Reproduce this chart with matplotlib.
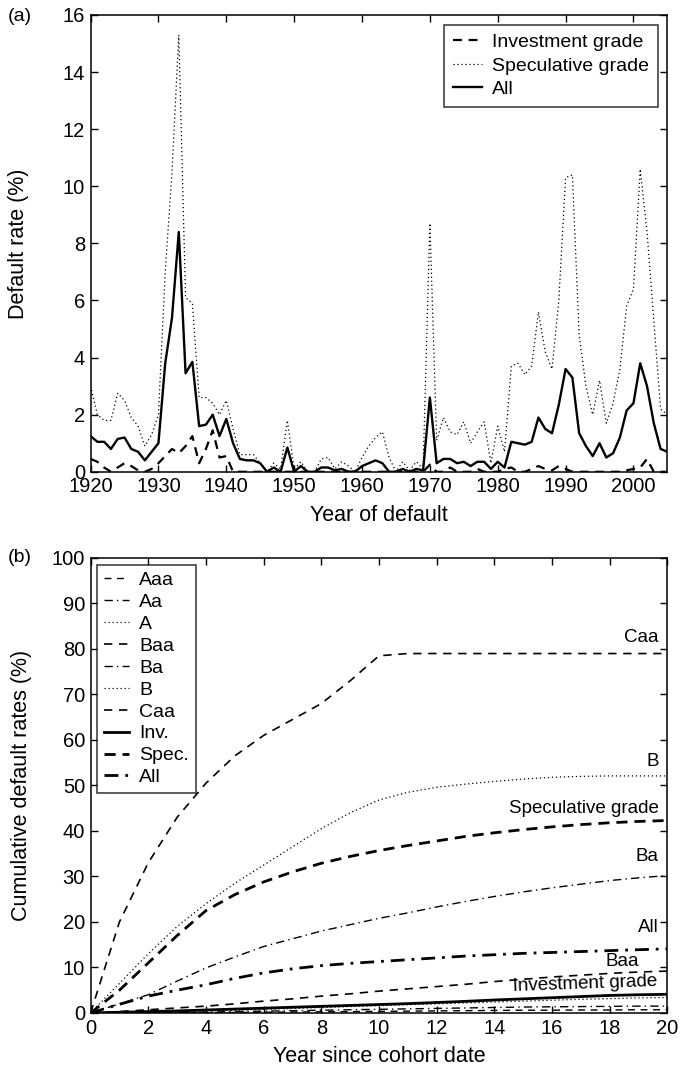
import matplotlib

matplotlib.use("Agg")
import matplotlib.pyplot as plt
import numpy as np

plt.rcParams["font.family"] = ["Liberation Sans", "DejaVu Sans"]

# (a) annual default rates, 1920-2005
years = list(range(1920, 2006))
inv_grade = [0.45, 0.35, 0.15, 0.0, 0.15, 0.3, 0.2, 0.05, 0.0, 0.1,
             0.3, 0.55, 0.8, 0.65, 0.9, 1.25, 0.3, 0.8, 1.45, 0.5,
             0.55, 0.0, 0.0, 0.0, 0.0, 0.0, 0.0, 0.0, 0.0, 0.0,
             0.0, 0.0, 0.0, 0.0, 0.0, 0.0, 0.0, 0.0, 0.0, 0.0,
             0.0, 0.0, 0.0, 0.0, 0.0, 0.0, 0.0, 0.0, 0.0, 0.0,
             0.25, 0.0, 0.0, 0.15, 0.0, 0.0, 0.0, 0.1, 0.0, 0.0,
             0.0, 0.1, 0.15, 0.0, 0.0, 0.1, 0.2, 0.1, 0.05, 0.2,
             0.1, 0.0, 0.0, 0.0, 0.0, 0.0, 0.0, 0.0, 0.0, 0.05,
             0.1, 0.15, 0.45, 0.0, 0.0, 0.0]
spec_grade = [3.0, 2.0, 1.8, 1.8, 2.75, 2.5, 1.9, 1.6, 0.9, 1.3,
              2.0, 7.0, 10.5, 15.3, 6.1, 5.9, 2.6, 2.6, 2.4, 2.0,
              2.5, 1.5, 0.6, 0.6, 0.6, 0.3, 0.0, 0.3, 0.1, 1.8,
              0.1, 0.35, 0.0, 0.0, 0.45, 0.5, 0.1, 0.35, 0.2, 0.0,
              0.5, 0.9, 1.2, 1.4, 0.5, 0.0, 0.35, 0.05, 0.35, 0.1,
              8.7, 1.1, 1.9, 1.4, 1.3, 1.75, 1.0, 1.4, 1.75, 0.3,
              1.6, 0.7, 3.7, 3.8, 3.4, 3.7, 5.6, 4.2, 3.6, 6.0,
              10.3, 10.4, 4.8, 3.0, 2.0, 3.2, 1.7, 2.4, 3.6, 5.8,
              6.4, 10.6, 8.4, 5.3, 2.2, 2.0]
all_grade = [1.25, 1.05, 1.05, 0.8, 1.15, 1.2, 0.8, 0.7, 0.4, 0.7,
             1.0, 3.8, 5.4, 8.4, 3.45, 3.85, 1.6, 1.65, 2.0, 1.25,
             1.85, 1.0, 0.45, 0.4, 0.4, 0.3, 0.0, 0.15, 0.0, 0.85,
             0.0, 0.2, 0.0, 0.0, 0.15, 0.15, 0.05, 0.1, 0.0, 0.0,
             0.2, 0.3, 0.4, 0.3, 0.0, 0.0, 0.1, 0.0, 0.1, 0.05,
             2.6, 0.3, 0.45, 0.45, 0.3, 0.35, 0.2, 0.35, 0.35, 0.1,
             0.35, 0.15, 1.05, 1.0, 0.95, 1.05, 1.9, 1.5, 1.35, 2.35,
             3.6, 3.3, 1.35, 0.9, 0.55, 1.0, 0.5, 0.65, 1.2, 2.15,
             2.4, 3.8, 3.0, 1.7, 0.8, 0.7]

# (b) cumulative default rates by horizon
horizon = list(range(0, 21))
cum_aaa = [0, 0, 0, 0, 0.05, 0.1, 0.15, 0.2, 0.25, 0.3, 0.35, 0.4, 0.45, 0.5, 0.55, 0.6, 0.6, 0.65, 0.65, 0.7, 0.7]
cum_aa = [0, 0.0, 0.05, 0.1, 0.2, 0.3, 0.4, 0.5, 0.6, 0.7, 0.8, 0.9, 1.0, 1.1, 1.2, 1.3, 1.35, 1.4, 1.45, 1.5, 1.5]
cum_a = [0, 0.05, 0.15, 0.3, 0.45, 0.6, 0.8, 1.0, 1.2, 1.4, 1.6, 1.8, 2.0, 2.2, 2.4, 2.6, 2.8, 3.0, 3.15, 3.3, 3.4]
cum_baa = [0, 0.3, 0.7, 1.1, 1.5, 2.0, 2.6, 3.1, 3.7, 4.2, 4.8, 5.3, 5.8, 6.3, 6.9, 7.4, 7.9, 8.3, 8.7, 9.0, 9.2]
cum_ba = [0, 2, 4, 7, 9.9, 12.3, 14.6, 16.3, 18, 19.4, 20.8, 22, 23.3, 24.5, 25.6, 26.6, 27.5, 28.3, 29.1, 29.7, 30.2]
cum_b = [0, 6.5, 13, 19, 24, 28.5, 32.5, 36.5, 40.5, 44, 46.8, 48.5, 49.6, 50.3, 50.9, 51.4, 51.8, 52.0, 52.1, 52.1, 52.1]
cum_caa = [0, 20, 33, 43, 50.5, 56.5, 61, 64.5, 68, 73, 78.5, 79, 79, 79, 79, 79, 79, 79, 79, 79, 79]
cum_inv = [0, 0.15, 0.3, 0.45, 0.65, 0.85, 1.05, 1.25, 1.45, 1.65, 1.85, 2.05, 2.3, 2.55, 2.85, 3.1, 3.35, 3.6, 3.85, 4.0, 4.1]
cum_spec = [0, 5, 11, 17, 22.5, 26, 28.8, 31, 32.9, 34.4, 35.7, 36.8, 37.8, 38.8, 39.6, 40.3, 40.9, 41.4, 41.8, 42.1, 42.3]
cum_all = [0, 1.9, 3.7, 5.0, 6.2, 7.6, 8.8, 9.7, 10.4, 10.9, 11.3, 11.7, 12.1, 12.5, 12.8, 13.1, 13.3, 13.5, 13.7, 13.9, 14.1]

end_labels = ["Caa", "B", "Speculative grade", "Ba", "All", "Baa", "Investment grade"]
end_label_x = [19.7, 19.7, 19.7, 19.7, 19.7, 19.0, 19.65]
end_label_y = [82.6, 55.2, 45.0, 34.3, 18.7, 11.2, 6.4]

TICK_FS = 14.5
LABEL_FS = 15.5
LEG_FS = 14
NOTE_FS = 13.5


def style_axes(ax):
    ax.tick_params(direction="in", top=True, right=True, length=5, width=1,
                   labelsize=TICK_FS, pad=4)
    for sp in ax.spines.values():
        sp.set_linewidth(1.1)


fig = plt.figure(figsize=(6.81, 10.71), dpi=100)

# ---- panel (a)
ax1 = fig.add_axes([0.133, 0.5595, 0.847, 0.4265])
ax1.plot(years, inv_grade, color="black", lw=1.6, ls=(0, (4, 3)), label="Investment grade")
ax1.plot(years, spec_grade, color="black", lw=0.9, ls=(0, (1, 2.2)), label="Speculative grade")
ax1.plot(years, all_grade, color="black", lw=1.7, label="All")
ax1.set_xlim(1920, 2005)
ax1.set_ylim(0, 16)
ax1.set_xticks(range(1920, 2001, 10))
ax1.set_yticks(range(0, 17, 2))
ax1.set_xlabel("Year of default", fontsize=LABEL_FS, labelpad=6)
ax1.set_ylabel("Default rate (%)", fontsize=LABEL_FS, labelpad=24)
style_axes(ax1)
leg1 = ax1.legend(loc="upper right", fontsize=LEG_FS, frameon=True, fancybox=False,
                  edgecolor="black", handlelength=1.5, handletextpad=0.5,
                  labelspacing=0.3, borderpad=0.45, borderaxespad=0.5)
leg1.get_frame().set_linewidth(1.1)
fig.text(0.012, 0.985, "(a)", fontsize=14, ha="left", va="center")

# ---- panel (b)
ax2 = fig.add_axes([0.133, 0.0542, 0.847, 0.4248])
ax2.plot(horizon, cum_aaa, color="black", lw=1.0, ls=(0, (5, 4)), label="Aaa")
ax2.plot(horizon, cum_aa, color="black", lw=1.0, ls=(0, (6, 3, 1, 3)), label="Aa")
ax2.plot(horizon, cum_a, color="black", lw=0.9, ls=(0, (1, 2.2)), label="A")
ax2.plot(horizon, cum_baa, color="black", lw=1.2, ls=(0, (5, 4)), label="Baa")
ax2.plot(horizon, cum_ba, color="black", lw=1.0, ls=(0, (6, 3, 1, 3)), label="Ba")
ax2.plot(horizon, cum_b, color="black", lw=0.9, ls=(0, (1, 2.2)), label="B")
ax2.plot(horizon, cum_caa, color="black", lw=1.2, ls=(0, (5, 4)), label="Caa")
ax2.plot(horizon, cum_inv, color="black", lw=2.0, label="Inv.")
ax2.plot(horizon, cum_spec, color="black", lw=2.0, ls=(0, (4, 2.5)), label="Spec.")
ax2.plot(horizon, cum_all, color="black", lw=2.0, ls=(0, (5, 2.5, 1, 2.5)), label="All")
for txt, tx, ty in zip(end_labels, end_label_x, end_label_y):
    rot = 2 if txt == "Investment grade" else 0
    ax2.text(tx, ty, txt, fontsize=NOTE_FS, ha="right", va="center", rotation=rot)
ax2.set_xlim(0, 20)
ax2.set_ylim(0, 100)
ax2.set_xticks(range(0, 21, 2))
ax2.set_yticks(range(0, 101, 10))
ax2.set_xlabel("Year since cohort date", fontsize=LABEL_FS, labelpad=6)
ax2.set_ylabel("Cumulative default rates (%)", fontsize=LABEL_FS, labelpad=14)
style_axes(ax2)
leg2 = ax2.legend(loc="upper left", fontsize=LEG_FS, frameon=True, fancybox=False,
                  edgecolor="black", handlelength=1.3, handletextpad=0.5,
                  labelspacing=0.22, borderpad=0.35, borderaxespad=0.35)
leg2.get_frame().set_linewidth(1.1)
fig.text(0.012, 0.479, "(b)", fontsize=14, ha="left", va="center")

fig.savefig("out.png", dpi=100)
plt.close(fig)
